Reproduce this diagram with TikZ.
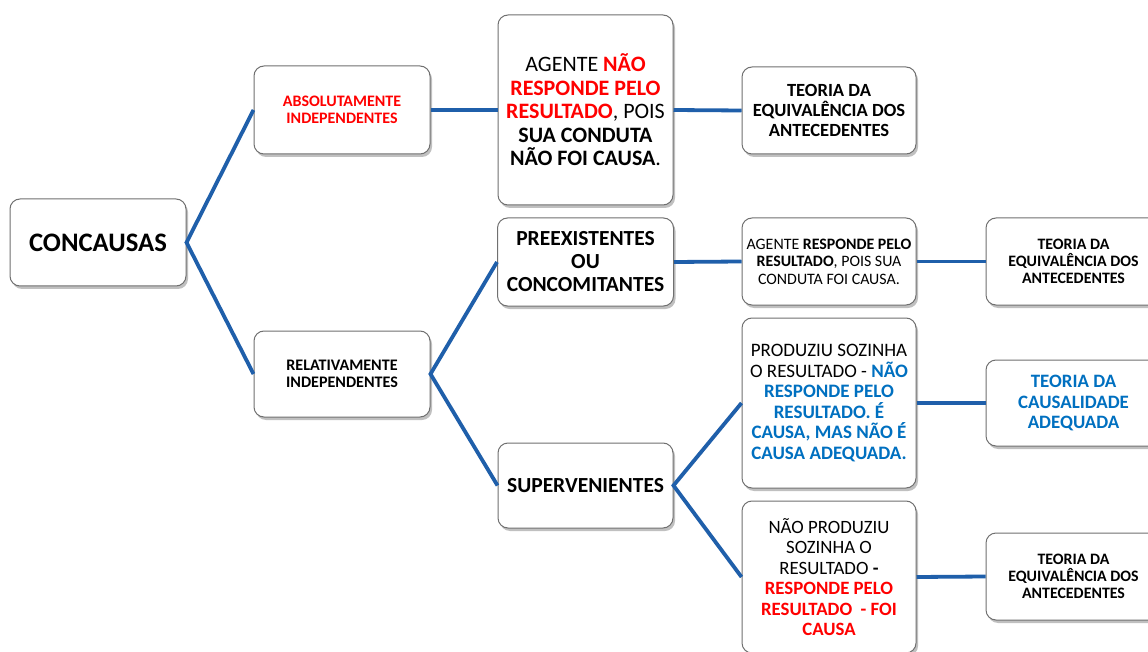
\documentclass[tikz,border=0pt]{standalone}
\usepackage{fontspec}
\setmainfont{Carlito}
\usetikzlibrary{shadows}
\definecolor{lineblue}{HTML}{1F5FAA}
\definecolor{txtblue}{HTML}{0070C0}
\definecolor{txtred}{HTML}{FF0000}
\definecolor{boxgray}{HTML}{707070}
\newcommand{\rb}[1]{\textbf{\textcolor{txtred}{#1}}}
\newcommand{\bb}[1]{\textbf{\textcolor{txtblue}{#1}}}
\begin{document}
\begin{tikzpicture}[x=1pt,y=-1pt,
  box/.style={draw=boxgray, line width=1pt, fill=white, rounded corners=10pt,
    align=center, inner sep=2pt,
    drop shadow={shadow xshift=2pt, shadow yshift=-3pt, opacity=0.35, fill=black!70}},
  conn/.style={draw=lineblue, line width=3.8pt}]
\useasboundingbox (0,0) rectangle (1148,652);
\fill[white] (0,0) rectangle (1148,652);

\node[box, minimum width=176pt, minimum height=87pt, font=\fontsize{26.7}{30}\selectfont\bfseries] (conc) at (98,242.5) {CONCAUSAS};

\node[box, minimum width=176pt, minimum height=88pt, font=\fontsize{16}{17}\selectfont\bfseries, text=txtred] (abs) at (342,110) {ABSOLUTAMENTE\\INDEPENDENTES};

\node[box, minimum width=175pt, minimum height=190pt, font=\fontsize{22}{23.5}\selectfont] (ag1) at (585.5,110) {AGENTE \rb{NÃO}\\\rb{RESPONDE PELO}\\\rb{RESULTADO}, POIS\\\textbf{SUA CONDUTA}\\\textbf{NÃO FOI CAUSA}.};

\node[box, minimum width=174pt, minimum height=87pt, font=\fontsize{18.6}{20}\selectfont\bfseries] (t1) at (829,110.5) {TEORIA DA\\EQUIVALÊNCIA DOS\\ANTECEDENTES};

\node[box, minimum width=176pt, minimum height=88pt, font=\fontsize{21.5}{23}\selectfont\bfseries] (pre) at (585.5,262) {PREEXISTENTES\\OU\\CONCOMITANTES};

\node[box, minimum width=174pt, minimum height=87pt, font=\fontsize{15.9}{17.5}\selectfont] (ag2) at (829,261.5) {AGENTE \textbf{RESPONDE PELO}\\\textbf{RESULTADO}, POIS SUA\\CONDUTA FOI CAUSA.};

\node[box, minimum width=175pt, minimum height=87pt, font=\fontsize{15.9}{17}\selectfont\bfseries] (t2) at (1073.5,261.5) {TEORIA DA\\EQUIVALÊNCIA DOS\\ANTECEDENTES};

\node[box, minimum width=176pt, minimum height=86pt, font=\fontsize{16.1}{17}\selectfont\bfseries] (rel) at (342,374) {RELATIVAMENTE\\INDEPENDENTES};

\node[box, minimum width=175pt, minimum height=85pt, font=\fontsize{21.5}{23}\selectfont\bfseries] (sup) at (585.5,485.5) {SUPERVENIENTES};

\node[box, minimum width=174pt, minimum height=170pt, font=\fontsize{19}{20.5}\selectfont] (prod) at (829,403) {PRODUZIU SOZINHA\\O RESULTADO - \bb{NÃO}\\\bb{RESPONDE PELO}\\\bb{RESULTADO. É}\\\bb{CAUSA, MAS NÃO É}\\\bb{CAUSA ADEQUADA.}};

\node[box, minimum width=175pt, minimum height=86pt, font=\fontsize{18.9}{20.5}\selectfont\bfseries, text=txtblue] (t3) at (1073.5,403) {TEORIA DA\\CAUSALIDADE\\ADEQUADA};

\node[box, minimum width=174pt, minimum height=152pt, font=\fontsize{18.8}{20.5}\selectfont] (nprod) at (829,577) {NÃO PRODUZIU\\SOZINHA O\\RESULTADO \textbf{-}\\\rb{RESPONDE PELO}\\\rb{RESULTADO\ \ - FOI}\\\rb{CAUSA}};

\node[box, minimum width=175pt, minimum height=87pt, font=\fontsize{15.9}{17}\selectfont\bfseries] (t4) at (1073.5,576.5) {TEORIA DA\\EQUIVALÊNCIA DOS\\ANTECEDENTES};

\draw[conn] (abs.west) -- (conc.east) -- (rel.west);
\draw[conn] (abs.east) -- (ag1.west);
\draw[conn] (ag1.east) -- (t1.west);
\draw[conn] (pre.west) -- (rel.east) -- (sup.west);
\draw[conn] (pre.east) -- (ag2.west);
\draw[conn] (ag2.east) -- (t2.west);
\draw[conn] (prod.west) -- (sup.east) -- (nprod.west);
\draw[conn] (prod.east) -- (t3.west);
\draw[conn] (nprod.east) -- (t4.west);
\end{tikzpicture}
\end{document}
